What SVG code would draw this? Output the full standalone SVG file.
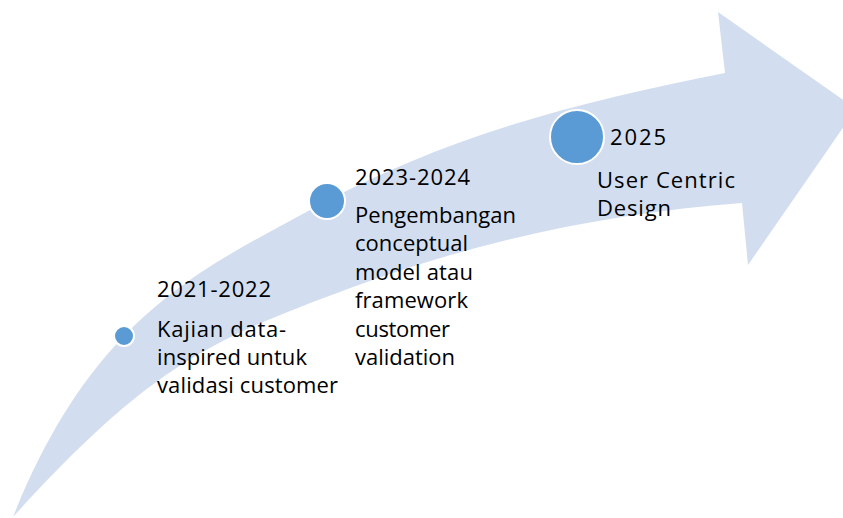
<svg xmlns="http://www.w3.org/2000/svg" width="843" height="518" viewBox="0 0 843 518">
<style>
.band{fill:#d2deef;stroke:none}
.dot{fill:#5b9bd5;stroke:#ffffff;stroke-width:2}
.t{font-family:"Open Sans","Liberation Sans",sans-serif;font-size:22px;fill:#000000}
</style>
<rect width="843" height="518" fill="#ffffff"/>
<g id="arrow">
<path class="band" d="M13,517 C93,317 200,270 310,210 C450,133 585,101 725,73 L718,12 L856,109 L748,265 L742,203 C612,213 483,239 353,287 C213,339 153,363 13,517 Z"/>
</g>
<g id="connectors"></g>
<g id="node-2021">
<circle class="dot" cx="124" cy="336" r="10"/>
<text class="t" x="157" y="297" textLength="114">2021-2022</text>
<text class="t" x="157" y="336.5" textLength="129">Kajian data-</text>
<text class="t" x="157" y="364.5" textLength="150">inspired untuk</text>
<text class="t" x="157" y="392.5" textLength="181">validasi customer</text>
</g>
<g id="node-2023">
<circle class="dot" cx="327" cy="201" r="18"/>
<text class="t" x="355" y="185" textLength="115">2023-2024</text>
<text class="t" x="355" y="223" textLength="161">Pengembangan</text>
<text class="t" x="355" y="251.4" textLength="113">conceptual</text>
<text class="t" x="355" y="279.8" textLength="118">model atau</text>
<text class="t" x="355" y="308.2" textLength="113">framework</text>
<text class="t" x="355" y="336.6" textLength="95">customer</text>
<text class="t" x="355" y="365" textLength="100">validation</text>
</g>
<g id="node-2025">
<circle class="dot" cx="577" cy="137" r="27"/>
<text class="t" x="610" y="145" textLength="56">2025</text>
<text class="t" x="597" y="188" textLength="138">User Centric</text>
<text class="t" x="597" y="216" textLength="74">Design</text>
</g>
</svg>
